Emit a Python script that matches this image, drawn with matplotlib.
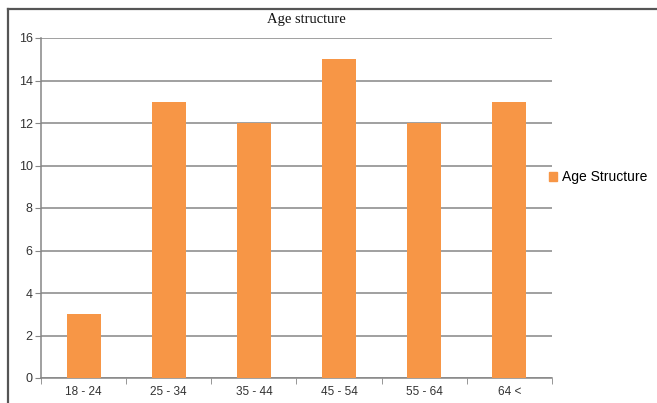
import matplotlib
matplotlib.use("Agg")
import matplotlib.pyplot as plt
from matplotlib.lines import Line2D
from matplotlib.patches import Patch

categories = ["18 - 24", "25 - 34", "35 - 44", "45 - 54", "55 - 64", "64 <"]
values = [3, 13, 12, 15, 12, 13]
series_name = "Age Structure"
title = "Age structure"

W, H = 657, 403
fig = plt.figure(figsize=(W / 100, H / 100), dpi=100)
fig.patch.set_facecolor("white")
ax = fig.add_axes([41 / W, 1 - 378 / H, (552 - 41) / W, (378 - 38) / H])

color = "#F79646"
x = list(range(len(categories)))
ax.bar(x, values, width=0.4, color=color, zorder=3)
ax.set_xlim(-0.5, len(categories) - 0.5)
ax.set_ylim(0, 16)
ax.set_yticks(range(0, 17, 2))
ax.yaxis.grid(True, color="#868686", linewidth=1.1, zorder=0)
ax.set_axisbelow(True)

for s in ["top", "right"]:
    ax.spines[s].set_visible(False)
for s in ["left", "bottom"]:
    ax.spines[s].set_color("#868686")
    ax.spines[s].set_linewidth(1.1)

ax.set_xticks(x)
ax.set_xticklabels(categories, fontsize=8.5, family="Liberation Sans", color="#333333")
ax.tick_params(axis="x", length=0, pad=6)
ax.set_xticks([i - 0.5 for i in range(len(categories) + 1)], minor=True)
ax.tick_params(axis="x", which="minor", length=4, color="#868686")
ax.tick_params(axis="y", length=4, color="#868686", labelsize=9, labelcolor="#333333", pad=2)
for lab in ax.get_yticklabels():
    lab.set_family("Liberation Sans")

fig.text(306 / W, 1 - 20 / H, title, ha="center", va="center", fontsize=10.5,
         family="Liberation Serif", color="#111111")

handles = [Patch(facecolor=color, edgecolor=color)]
fig.legend(handles, [series_name], loc="center left",
           bbox_to_anchor=(536 / W, 1 - 177 / H), frameon=False,
           prop={"family": "Liberation Sans", "size": 10},
           handlelength=0.6, handleheight=0.6, handletextpad=0.4)

# outer chart frame
fig.add_artist(Line2D([8 / W, 1], [1 - 9 / H, 1 - 9 / H], color="#555555", linewidth=1.6))
fig.add_artist(Line2D([8 / W, 8 / W], [0, 1 - 9 / H], color="#555555", linewidth=1.6))

fig.savefig("out.png", dpi=100, facecolor="white")
